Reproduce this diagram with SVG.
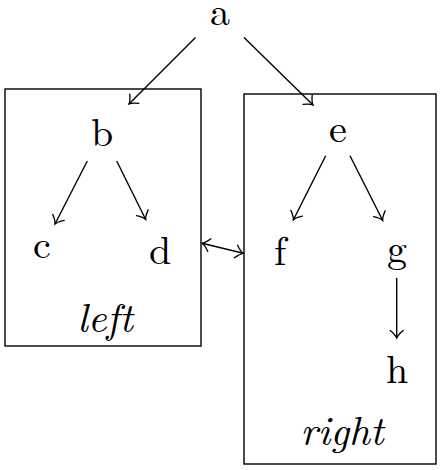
<svg xmlns="http://www.w3.org/2000/svg" width="443" height="470" viewBox="0 0 443 470">
<style>
.t{font-family:"Latin Modern Roman","Liberation Serif",serif;font-size:40px;fill:#000;text-anchor:middle}
.i{font-style:italic;font-size:41px}
.box{fill:none;stroke:#000;stroke-width:1.4}
.e{fill:none;stroke:#000;stroke-width:1.4;marker-end:url(#arr)}
</style>
<defs>
<marker id="arr" viewBox="-10 -10 12 20" refX="0" refY="0" markerWidth="12" markerHeight="20" markerUnits="userSpaceOnUse" orient="auto-start-reverse" overflow="visible">
<path d="M-7.5,-6.5 C-4.5,-2.8 -1.6,-0.6 0,0 C-1.6,0.6 -4.5,2.8 -7.5,6.5" fill="none" stroke="#000" stroke-width="1.3" stroke-linecap="round"/>
</marker>
</defs>
<g id="left"><rect class="box" x="5" y="89" width="196" height="257"/><text class="t i" x="105" y="332">left</text></g>
<g id="right"><rect class="box" x="244" y="94" width="192" height="370"/><text class="t i" x="342" y="445">right</text></g>
<g id="a"><text class="t" x="220" y="25">a</text></g>
<g id="b"><text class="t" x="102" y="146">b</text></g>
<g id="c"><text class="t" x="42" y="258">c</text></g>
<g id="d"><text class="t" x="160" y="264">d</text></g>
<g id="e"><text class="t" x="338" y="142">e</text></g>
<g id="f"><text class="t" x="280" y="265">f</text></g>
<g id="g"><text class="t" x="397" y="262">g</text></g>
<g id="h"><text class="t" x="397" y="383">h</text></g>
<g id="connectors">
<line class="e" x1="195.5" y1="37.5" x2="129" y2="104"/>
<line class="e" x1="244" y1="37.5" x2="313" y2="105"/>
<line class="e" x1="87.3" y1="161" x2="55" y2="224"/>
<line class="e" x1="116.7" y1="161" x2="145.7" y2="219.5"/>
<line class="e" x1="325.7" y1="155.7" x2="293.3" y2="220"/>
<line class="e" x1="350" y1="155.7" x2="382.7" y2="220.5"/>
<line class="e" x1="396.7" y1="278" x2="396.7" y2="338"/>
<line class="e" x1="202" y1="243.3" x2="243.3" y2="253.3" marker-start="url(#arr)"/>
</g>
</svg>
